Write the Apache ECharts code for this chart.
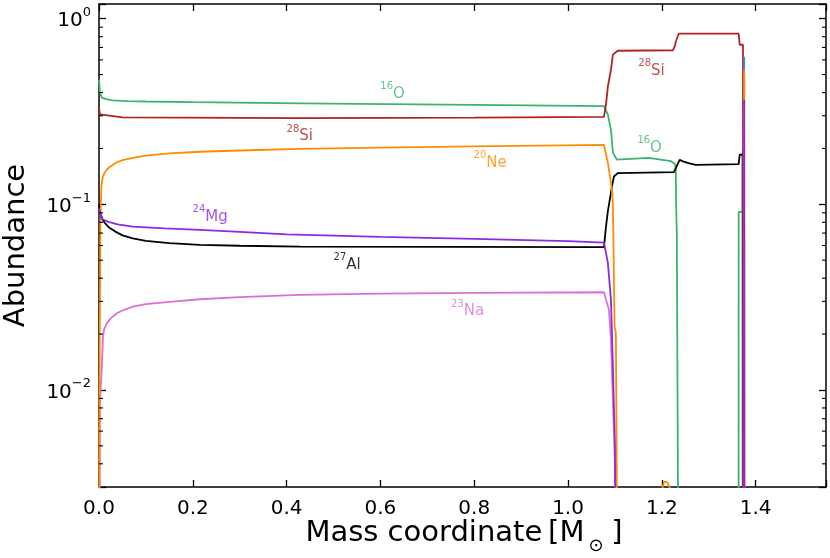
<!DOCTYPE html>
<html>
<head>
<meta charset="utf-8">
<script src="https://cdn.jsdelivr.net/npm/echarts@6/dist/echarts.min.js"></script>
<style>
html, body { margin: 0; padding: 0; background: #fff; }
#main { width: 830px; height: 558px; }
</style>
</head>
<body>
<div id="main"></div>
<script>
// abundance profiles, [mass coordinate, mass fraction]
var o16 = [[0, 0.47], [0.002, 0.40], [0.006, 0.375], [0.01, 0.369], [0.02, 0.366], [0.03, 0.363],
    [0.06, 0.36], [0.1, 0.358], [0.2, 0.355], [0.43, 0.35], [0.8, 0.343], [1.0766, 0.338], [1.0787, 0.336],
    [1.085, 0.304], [1.0915, 0.252], [1.0957, 0.19], [1.104, 0.174], [1.172, 0.178], [1.219, 0.171],
    [1.2277, 0.165], [1.2298, 0.157], [1.2302, 0.106], [1.2319, 0.07], [1.2345, 0.0025], [1.236, 0.00001],
    [1.3636, 0.00001], [1.3638, 0.091], [1.3723, 0.091], [1.3726, 0.2], [1.373, 0.00001]];
var si28 = [[0, 0.33], [0.002, 0.305], [0.006, 0.298], [0.05, 0.294], [0.43, 0.2915], [0.8, 0.293],
    [1.0766, 0.296], [1.0787, 0.296], [1.0809, 0.344], [1.085, 0.432], [1.0915, 0.531], [1.0957, 0.64],
    [1.106, 0.672], [1.2234, 0.676], [1.2277, 0.709], [1.2298, 0.754], [1.236, 0.83], [1.3638, 0.83],
    [1.366, 0.724], [1.373, 0.724], [1.3732, 0.00001]];
var ne20 = [[0, 0.0001], [0.001, 0.01], [0.003, 0.08], [0.005, 0.125], [0.008, 0.14], [0.012, 0.148],
    [0.017, 0.154], [0.023, 0.159], [0.035, 0.167], [0.05, 0.173], [0.072, 0.178], [0.1, 0.183],
    [0.15, 0.188], [0.215, 0.192], [0.3, 0.195], [0.428, 0.199], [0.6, 0.202], [0.8, 0.205], [1.0766, 0.209],
    [1.085, 0.167], [1.0936, 0.12], [1.0957, 0.1], [1.0993, 0.0219], [1.102, 0.0203], [1.1043, 0.0025],
    [1.106, 0.0005], [1.195, 0.002], [1.2, 0.0029], [1.205, 0.0032], [1.211, 0.0032], [1.222, 0.0028],
    [1.23, 0.0015], [1.3745, 0.0005], [1.3755, 0.531], [1.3762, 0.531], [1.3765, 0.00001]];
var mg24 = [[0, 0.095], [0.002, 0.0914], [0.004, 0.0843], [0.01, 0.0825], [0.02, 0.0805], [0.04, 0.078],
    [0.072, 0.0759], [0.14, 0.0742], [0.215, 0.0729], [0.3, 0.071], [0.4, 0.0688], [0.6, 0.0668],
    [0.8, 0.0652], [1.0, 0.0633], [1.0766, 0.0622], [1.085, 0.0484], [1.0915, 0.0306], [1.0957, 0.0133],
    [1.1, 0.00493], [1.104, 0.0001], [1.374, 0.00001], [1.3755, 0.366], [1.3762, 0.366], [1.3765, 0.00001]];
var al27 = [[0, 0.1], [0.003, 0.09], [0.007, 0.083], [0.013, 0.079], [0.023, 0.0745], [0.034, 0.0715],
    [0.05, 0.068], [0.072, 0.0655], [0.1, 0.0635], [0.15, 0.0618], [0.215, 0.0605], [0.3, 0.0598],
    [0.428, 0.0592], [1.0766, 0.0588], [1.0787, 0.0588], [1.0809, 0.0759], [1.085, 0.092], [1.0936, 0.1247],
    [1.0979, 0.1412], [1.106, 0.1473], [1.2255, 0.1491], [1.2298, 0.1568], [1.238, 0.1738], [1.2447, 0.1703],
    [1.257, 0.1668], [1.272, 0.1633], [1.3638, 0.1647], [1.366, 0.1849], [1.3723, 0.1849], [1.373, 0.00001]];
var na23 = [[0, 0.0001], [0.002, 0.0085], [0.0064, 0.014], [0.0085, 0.0194], [0.011, 0.0212], [0.017, 0.0229],
    [0.025, 0.0243], [0.038, 0.0259], [0.05, 0.0268], [0.072, 0.0281], [0.1, 0.029], [0.145, 0.0297],
    [0.215, 0.0308], [0.3, 0.0316], [0.428, 0.0325], [0.6, 0.033], [0.8, 0.0333], [1.0766, 0.0336],
    [1.0872, 0.027], [1.0915, 0.0186], [1.0979, 0.00586], [1.1, 0.00385], [1.102, 0.0001]];
var extra = [[1.3745, 0.00001], [1.3757, 0.624], [1.376, 0.00001]];

// annotations
var labelIso = ['16', '28', '20', '24', '27', '23', '28', '16'];
var labelEl = ['O', 'Si', 'Ne', 'Mg', 'Al', 'Na', 'Si', 'O'];
var labelX = [0.626, 0.428, 0.834, 0.237, 0.529, 0.786, 1.178, 1.174];
var labelY = [0.404, 0.2395, 0.1717, 0.0878, 0.0484, 0.0273, 0.538, 0.2068];
var labelColor = ['#3cb371', '#b22222', '#ff8c00', '#8a2be2', '#000000', '#da70d6', '#b22222', '#3cb371'];

// minor ticks on the log axis
var minorTicks = [0.004, 0.005, 0.006, 0.007, 0.008, 0.009, 0.02, 0.03, 0.04, 0.05, 0.06, 0.07, 0.08, 0.09,
    0.2, 0.3, 0.4, 0.5, 0.6, 0.7, 0.8, 0.9];

var XMIN = 0, XMAX = 1.55, YMIN = 0.003, YMAX = 1.2;
var font = 'DejaVu Sans';

var myChart = echarts.init(document.getElementById('main'), null, { renderer: 'canvas' });

function line(name, data, color) {
    return {
        name: name, type: 'line', data: data, showSymbol: false, symbol: 'none',
        lineStyle: { color: color, width: 1.8 }, itemStyle: { color: color },
        silent: true, animation: false, z: 3
    };
}

function powLabel(v) {
    var e = Math.log(v) / Math.LN10;
    var r = Math.round(e);
    if (Math.abs(e - r) > 1e-6) return '';
    var s = r < 0 ? '\u2212' + (-r) : '' + r;
    return '{b|10}{s|' + s + '}';
}

var tickRich = {
    b: { fontFamily: font, fontSize: 20, color: '#000', lineHeight: 25, verticalAlign: 'bottom' },
    s: { fontFamily: font, fontSize: 13, color: '#000', lineHeight: 14, verticalAlign: 'top' }
};

var axisLine = { show: true, onZero: false, lineStyle: { color: '#000', width: 1.5 } };
var majorTick = { inside: true, length: 7, lineStyle: { color: '#000', width: 1.3 } };

var labelData = labelX.map(function (x, i) {
    return {
        value: [x, labelY[i]],
        label: {
            formatter: '{s|' + labelIso[i] + '}{m|' + labelEl[i] + '}',
            rich: {
                s: { fontFamily: font, fontSize: 10, color: labelColor[i], lineHeight: 12, verticalAlign: 'top' },
                m: { fontFamily: font, fontSize: 15, color: labelColor[i], lineHeight: 20, verticalAlign: 'bottom' }
            }
        }
    };
});

option = {
    backgroundColor: '#fff',
    animation: false,
    grid: { left: 99, right: 4, top: 4, bottom: 71, containLabel: false, outerBoundsMode: 'none' },
    xAxis: [
        {
            type: 'value', min: XMIN, max: XMAX, interval: 0.2, position: 'bottom',
            axisLine: axisLine, axisTick: majorTick,
            axisLabel: {
                margin: 12, fontFamily: font, fontSize: 20, color: '#000',
                formatter: function (v) { return v > 1.5 ? '' : v.toFixed(1); }
            },
            splitLine: { show: false }
        },
        {
            type: 'value', min: XMIN, max: XMAX, interval: 0.2, position: 'top',
            axisLine: axisLine, axisTick: majorTick,
            axisLabel: { show: false },
            splitLine: { show: false }
        }
    ],
    yAxis: [
        {
            type: 'log', logBase: 10, min: YMIN, max: YMAX, position: 'left',
            name: 'Abundance', nameLocation: 'middle', nameGap: 68,
            nameTextStyle: { fontFamily: font, fontSize: 29, color: '#000' },
            axisLine: axisLine, axisTick: majorTick,
            axisLabel: { margin: 8, formatter: powLabel, rich: tickRich },
            splitLine: { show: false }
        },
        {
            type: 'log', logBase: 10, min: YMIN, max: YMAX, position: 'right',
            axisLine: axisLine, axisTick: majorTick,
            axisLabel: { show: false },
            splitLine: { show: false }
        }
    ],
    graphic: [{
        type: 'text', silent: true,
        style: {
            x: 464, y: 537, align: 'center', verticalAlign: 'middle',
            text: '{n|Mass coordinate\u2009[M}{u|\u2299}{n|\u2009]}',
            rich: {
                n: { fontFamily: font, fontSize: 29, fill: '#000', lineHeight: 36, verticalAlign: 'top' },
                u: { fontFamily: font, fontSize: 18, fill: '#000', lineHeight: 36, verticalAlign: 'bottom', padding: [10, 2, 0, 4] }
            }
        }
    }],
    series: [
        line('16O', o16, '#3cb371'),
        line('27Al', al27, '#000000'),
        line('28Si', si28, '#b22222'),
        line('23Na', na23, '#da70d6'),
        line('', extra, '#2b9be0'),
        line('20Ne', ne20, '#ff8c00'),
        line('24Mg', mg24, '#8a2be2'),
        {
            type: 'custom', silent: true, animation: false, clip: false, z: 5,
            data: minorTicks.map(function (v) { return [XMIN, v]; }),
            renderItem: function (params, api) {
                var p = api.coord([XMIN, api.value(1)]);
                var q = api.coord([XMAX, api.value(1)]);
                var st = { stroke: '#000', lineWidth: 1.1 };
                return {
                    type: 'group', children: [
                        { type: 'line', shape: { x1: p[0], y1: p[1], x2: p[0] + 4, y2: p[1] }, style: st },
                        { type: 'line', shape: { x1: q[0] - 4, y1: q[1], x2: q[0], y2: q[1] }, style: st }
                    ]
                };
            }
        },
        {
            type: 'scatter', silent: true, animation: false, symbolSize: 0, z: 6,
            label: { show: true, position: 'inside' },
            data: labelData
        }
    ]
};

myChart.setOption(option);
</script>
</body>
</html>
